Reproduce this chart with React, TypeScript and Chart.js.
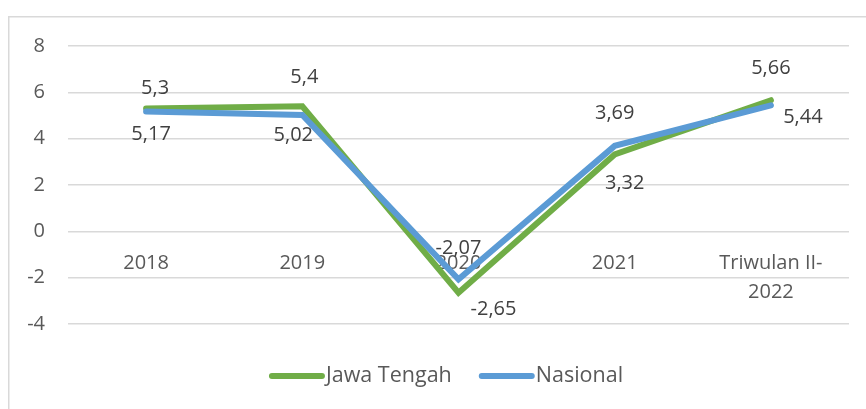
import React, { useEffect, useRef } from "react";
import { Chart, registerables } from "chart.js";

Chart.register(...registerables);

const categories: (string | string[])[] = ["2018", "2019", "2020", "2021", ["Triwulan II-", "2022"]];
const jawaTengah = [5.3, 5.4, -2.65, 3.32, 5.66];
const nasional = [5.17, 5.02, -2.07, 3.69, 5.44];
const jawaLabels = ["5,3", "5,4", "-2,65", "3,32", "5,66"];
const nasionalLabels = ["5,17", "5,02", "-2,07", "3,69", "5,44"];
const yTicks = { min: -4, max: 8, step: 2 };

// label offsets (style): [dx, dy] of text centre relative to point
const jawaOffsets = [[9, -20], [2, -29], [35, 17], [10, 29], [0, -32]];
const nasionalOffsets = [[5, 23], [-9, 20], [0, -31], [0, -33], [32, 12]];

const FONT = "'Open Sans', sans-serif";
const FONT_SIZE = 20;
const LEGEND_FONT_SIZE = 21.5;
const GREEN = "#70AD47";
const BLUE = "#5B9BD5";

const framePlugin = {
  id: "frame",
  beforeDraw(chart: any) {
    const ctx = chart.ctx;
    ctx.save();
    ctx.strokeStyle = "#D9D9D9";
    ctx.lineWidth = 1.5;
    ctx.strokeRect(8.75, 16.75, 1000, 1000);
    ctx.restore();
  },
};

const labelPlugin = {
  id: "valueLabels",
  afterDatasetsDraw(chart: any) {
    const ctx = chart.ctx;
    ctx.save();
    ctx.font = `${FONT_SIZE}px ${FONT}`;
    ctx.fillStyle = "#404040";
    ctx.textAlign = "center";
    ctx.textBaseline = "middle";
    chart.data.datasets.forEach((ds: any, di: number) => {
      const meta = chart.getDatasetMeta(di);
      meta.data.forEach((pt: any, i: number) => {
        const off = ds.labelOffsets[i];
        ctx.fillText(ds.valueLabels[i], pt.x + off[0], pt.y + off[1]);
      });
    });
    ctx.restore();
  },
};

const legendPlugin = {
  id: "lineLegend",
  afterDraw(chart: any) {
    const ctx = chart.ctx;
    ctx.save();
    ctx.font = `${LEGEND_FONT_SIZE}px ${FONT}`;
    const lineLen = 56;
    const gap = 27;
    const items = chart.data.datasets.map((ds: any) => ({
      label: ds.label,
      color: ds.borderColor,
      w: ctx.measureText(ds.label).width,
    }));
    const total = items.reduce((s: number, it: any) => s + lineLen + 1 + it.w, 0) + gap * (items.length - 1);
    let x = 446 - total / 2;
    const y = 376;
    items.forEach((it: any) => {
      ctx.strokeStyle = it.color;
      ctx.lineWidth = 6;
      ctx.lineCap = "round";
      ctx.beginPath();
      ctx.moveTo(x + 3, y);
      ctx.lineTo(x + lineLen - 3, y);
      ctx.stroke();
      ctx.fillStyle = "#595959";
      ctx.textAlign = "left";
      ctx.textBaseline = "middle";
      ctx.fillText(it.label, x + lineLen + 1, y);
      x += lineLen + 1 + it.w + gap;
    });
    ctx.restore();
  },
};

export default function App() {
  const ref = useRef<HTMLCanvasElement | null>(null);
  useEffect(() => {
    if (!ref.current) return;
    const chart = new Chart(ref.current, {
      type: "line",
      data: {
        labels: categories,
        datasets: [
          {
            label: "Jawa Tengah",
            data: jawaTengah,
            borderColor: GREEN,
            backgroundColor: GREEN,
            borderWidth: 6,
            borderCapStyle: "round",
            borderJoinStyle: "miter",
            pointRadius: 0,
            tension: 0,
            order: 1,
            valueLabels: jawaLabels,
            labelOffsets: jawaOffsets,
          } as any,
          {
            label: "Nasional",
            data: nasional,
            borderColor: BLUE,
            backgroundColor: BLUE,
            borderWidth: 6,
            borderCapStyle: "round",
            borderJoinStyle: "miter",
            pointRadius: 0,
            tension: 0,
            order: 0,
            valueLabels: nasionalLabels,
            labelOffsets: nasionalOffsets,
          } as any,
        ],
      },
      options: {
        responsive: false,
        animation: false,
        layout: { padding: { top: 46, right: 17, bottom: 85, left: 0 } },
        plugins: {
          legend: { display: false },
          tooltip: { enabled: false },
        },
        scales: {
          x: {
            position: { y: 0 } as any,
            offset: true,
            grid: { display: false, drawTicks: false },
            border: { display: false },
            ticks: {
              color: "#595959",
              font: { family: FONT, size: FONT_SIZE, lineHeight: 1.45 },
              padding: 17,
              maxRotation: 0,
              autoSkip: false,
            },
          },
          y: {
            min: yTicks.min,
            max: yTicks.max,
            grid: { color: "#D9D9D9", lineWidth: 1.5, drawTicks: false },
            border: { display: false },
            ticks: {
              stepSize: yTicks.step,
              color: "#595959",
              font: { family: FONT, size: FONT_SIZE },
              padding: 23,
            },
            afterFit(scale: any) {
              scale.width = 68;
            },
          },
        },
      },
      plugins: [framePlugin, labelPlugin, legendPlugin],
    });
    return () => chart.destroy();
  }, []);
  return (
    <canvas
      ref={ref}
      width={866}
      height={409}
      style={{ position: "fixed", left: 0, top: 0, width: 866, height: 409 }}
    />
  );
}
